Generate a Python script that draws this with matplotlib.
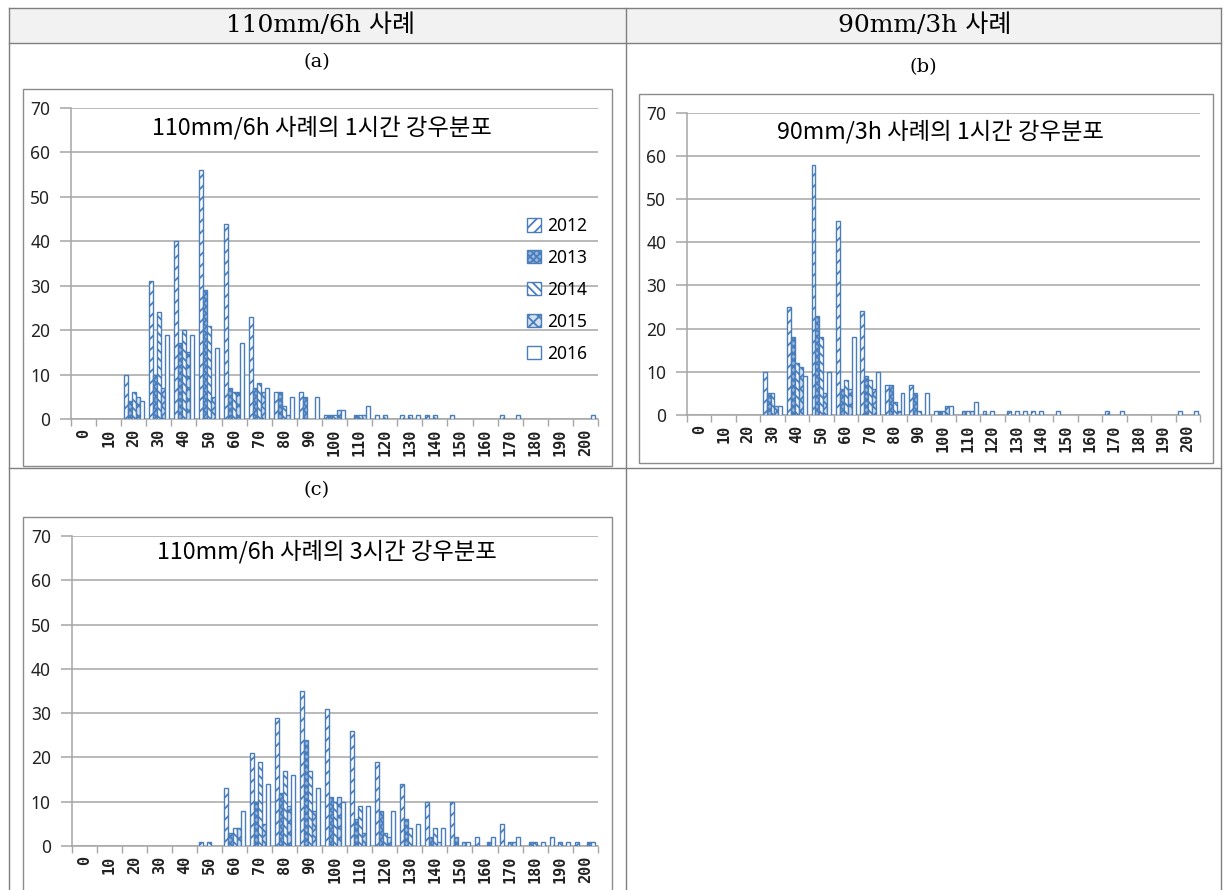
import matplotlib
matplotlib.use('Agg')
import matplotlib.pyplot as plt
from matplotlib.patches import Rectangle
from matplotlib.lines import Line2D
import numpy as np

plt.rcParams['hatch.linewidth'] = 1.3

W, H = 1228, 890

categories = [str(v) for v in range(0, 201, 10)]
years = ['2012', '2013', '2014', '2015', '2016']

# (a) 110mm/6h case, 1-hour rainfall distribution
a_2012 = [0, 0, 10, 31, 40, 56, 44, 23, 6, 6, 1, 0, 1, 1, 1, 1, 0, 1, 0, 0, 0]
a_2013 = [0, 0, 4, 10, 17, 29, 7, 7, 6, 5, 1, 1, 0, 0, 0, 0, 0, 0, 0, 0, 0]
a_2014 = [0, 0, 6, 24, 20, 21, 6, 8, 3, 0, 1, 1, 1, 1, 1, 0, 0, 0, 0, 0, 0]
a_2015 = [0, 0, 5, 7, 15, 5, 6, 6, 1, 0, 2, 1, 0, 0, 0, 0, 0, 0, 0, 0, 0]
a_2016 = [0, 0, 4, 19, 19, 16, 17, 7, 5, 5, 2, 3, 0, 1, 0, 0, 0, 1, 0, 0, 1]

# (b) 90mm/3h case, 1-hour rainfall distribution
b_2012 = [0, 0, 0, 10, 25, 58, 45, 24, 7, 7, 1, 0, 1, 1, 1, 1, 0, 1, 0, 0, 1]
b_2013 = [0, 0, 0, 5, 18, 23, 6, 9, 7, 5, 1, 1, 0, 0, 0, 0, 0, 0, 0, 0, 0]
b_2014 = [0, 0, 0, 5, 12, 18, 8, 8, 3, 1, 1, 1, 1, 1, 1, 0, 0, 0, 0, 0, 0]
b_2015 = [0, 0, 0, 2, 11, 5, 6, 6, 1, 0, 2, 1, 0, 0, 0, 0, 0, 0, 0, 0, 0]
b_2016 = [0, 0, 0, 2, 9, 10, 18, 10, 5, 5, 2, 3, 0, 1, 0, 0, 0, 1, 0, 0, 1]

# (c) 110mm/6h case, 3-hour rainfall distribution
c_2012 = [0, 0, 0, 0, 0, 1, 13, 21, 29, 35, 31, 26, 19, 14, 10, 10, 2, 5, 0, 2, 1]
c_2013 = [0, 0, 0, 0, 0, 0, 3, 10, 12, 24, 11, 6, 8, 6, 2, 2, 0, 0, 1, 0, 0]
c_2014 = [0, 0, 0, 0, 0, 1, 4, 19, 17, 17, 10, 9, 3, 4, 4, 0, 0, 1, 1, 1, 0]
c_2015 = [0, 0, 0, 0, 0, 0, 4, 5, 9, 8, 11, 3, 2, 0, 1, 1, 1, 1, 0, 0, 1]
c_2016 = [0, 0, 0, 0, 0, 0, 8, 14, 16, 13, 10, 9, 8, 5, 4, 1, 2, 2, 1, 1, 1]

header_left = '110mm/6h 사례'
header_right = '90mm/3h 사례'
title_a = '110mm/6h 사례의 1시간 강우분포'
title_b = '90mm/3h 사례의 1시간 강우분포'
title_c = '110mm/6h 사례의 3시간 강우분포'

BLUE = '#4a7ebb'
GRID = '#a6a6a6'
TABLE = '#7f7f7f'
HATCHES = ['///', 'xxxxx', '\\\\\\\\', 'xxx', None]
FACES = ['white', '#9ab6df', 'white', '#d3e0f2', 'white']

CJK = ['Noto Sans CJK KR', 'DejaVu Sans']
SERIF = ['DejaVu Serif', 'Noto Sans CJK KR']

fig = plt.figure(figsize=(W / 100, H / 100), dpi=100)


def fx(x):
    return x / W


def fy(y):
    return 1 - y / H


def hline(x0, x1, y, color=TABLE, lw=1.0):
    fig.add_artist(Line2D([fx(x0), fx(x1)], [fy(y), fy(y)], transform=fig.transFigure,
                          color=color, lw=lw, zorder=1))


def vline(x, y0, y1, color=TABLE, lw=1.0):
    fig.add_artist(Line2D([fx(x), fx(x)], [fy(y0), fy(y1)], transform=fig.transFigure,
                          color=color, lw=lw, zorder=1))


# table structure
fig.add_artist(Rectangle((fx(9), fy(43)), (1221 - 9) / W, (43 - 8) / H,
                         transform=fig.transFigure, facecolor='#f2f2f2',
                         edgecolor='none', zorder=0))
hline(9, 1221, 8)
hline(9, 1221, 43)
hline(9, 1221, 468)
vline(9, 8, 890)
vline(626, 8, 890)
vline(1221, 8, 890)

fig.text(fx(320), fy(25), header_left, ha='center', va='center', fontsize=18, family=SERIF)
fig.text(fx(925), fy(25), header_right, ha='center', va='center', fontsize=18, family=SERIF)
fig.text(fx(317), fy(62), '(a)', ha='center', va='center', fontsize=14, family=SERIF)
fig.text(fx(923), fy(67), '(b)', ha='center', va='center', fontsize=14, family=SERIF)
fig.text(fx(317), fy(490), '(c)', ha='center', va='center', fontsize=14, family=SERIF)


def draw_panel(frame, box, series, title, title_xy, legend_xy=None):
    fx0, fy0, fx1, fy1 = frame
    fig.add_artist(Rectangle((fx(fx0), fy(fy1)), (fx1 - fx0) / W, (fy1 - fy0) / H,
                             transform=fig.transFigure, facecolor='white',
                             edgecolor='#8c8c8c', lw=1.0, zorder=1))
    x0, y0, x1, y1 = box
    ax = fig.add_axes([fx(x0), fy(y1), (x1 - x0) / W, (y1 - y0) / H], zorder=2)
    ax.patch.set_alpha(0)
    x = np.arange(len(categories))
    w = 0.16
    for i, (yr, vals) in enumerate(zip(years, series)):
        vals = np.asarray(vals, dtype=float)
        m = vals > 0
        ax.bar(x[m] + (i - 2) * w, vals[m], width=w, facecolor=FACES[i],
               edgecolor=BLUE, hatch=HATCHES[i], linewidth=1.0, label=yr, zorder=3)
    ax.set_xlim(-0.5, len(categories) - 0.5)
    ax.set_ylim(0, 70)
    ax.set_yticks(range(0, 71, 10))
    ax.yaxis.grid(True, color=GRID, lw=1.1)
    ax.set_axisbelow(True)
    ax.set_xticks(np.arange(-0.5, len(categories), 1))
    ax.set_xticklabels([])
    ax.set_xticks(x, minor=True)
    ax.set_xticklabels(categories, minor=True, rotation=90,
                       family='DejaVu Sans Mono', fontsize=11, fontweight='bold')
    ax.tick_params(axis='x', which='major', length=5, color=GRID, width=1)
    ax.tick_params(axis='x', which='minor', length=0, pad=7)
    ax.tick_params(axis='y', length=8, color=GRID, width=1.1, pad=7, labelsize=12.5)
    for lab in ax.get_yticklabels():
        lab.set_family('Noto Sans')
        lab.set_color('#222222')
    for lab in ax.get_xticklabels(minor=True):
        lab.set_color('#222222')
    for sp in ['top', 'right']:
        ax.spines[sp].set_visible(False)
    for sp in ['left', 'bottom']:
        ax.spines[sp].set_color(GRID)
        ax.spines[sp].set_linewidth(1.1)
    fig.text(fx(title_xy[0]), fy(title_xy[1]), title, ha='left', va='center',
             fontsize=16.8, family=CJK, zorder=5)
    if legend_xy is not None:
        ax.legend(loc='upper left', bbox_to_anchor=(fx(legend_xy[0]), fy(legend_xy[1])),
                  bbox_transform=fig.transFigure, frameon=False,
                  handlelength=0.8, handleheight=0.8, handletextpad=0.35,
                  labelspacing=0.8, borderaxespad=0, borderpad=0,
                  prop={'family': 'Noto Sans', 'size': 12.5})
    return ax


draw_panel((23, 89, 612, 466), (71, 108, 598, 419),
           [a_2012, a_2013, a_2014, a_2015, a_2016], title_a, (152, 128),
           legend_xy=(527, 217))
draw_panel((639, 94, 1213, 463), (687, 112.7, 1200, 415),
           [b_2012, b_2013, b_2014, b_2015, b_2016], title_b, (777, 132))
draw_panel((23, 517, 612, 895), (71.7, 536, 597.7, 846),
           [c_2012, c_2013, c_2014, c_2015, c_2016], title_c, (157, 552))

fig.savefig('out.png', dpi=100)
